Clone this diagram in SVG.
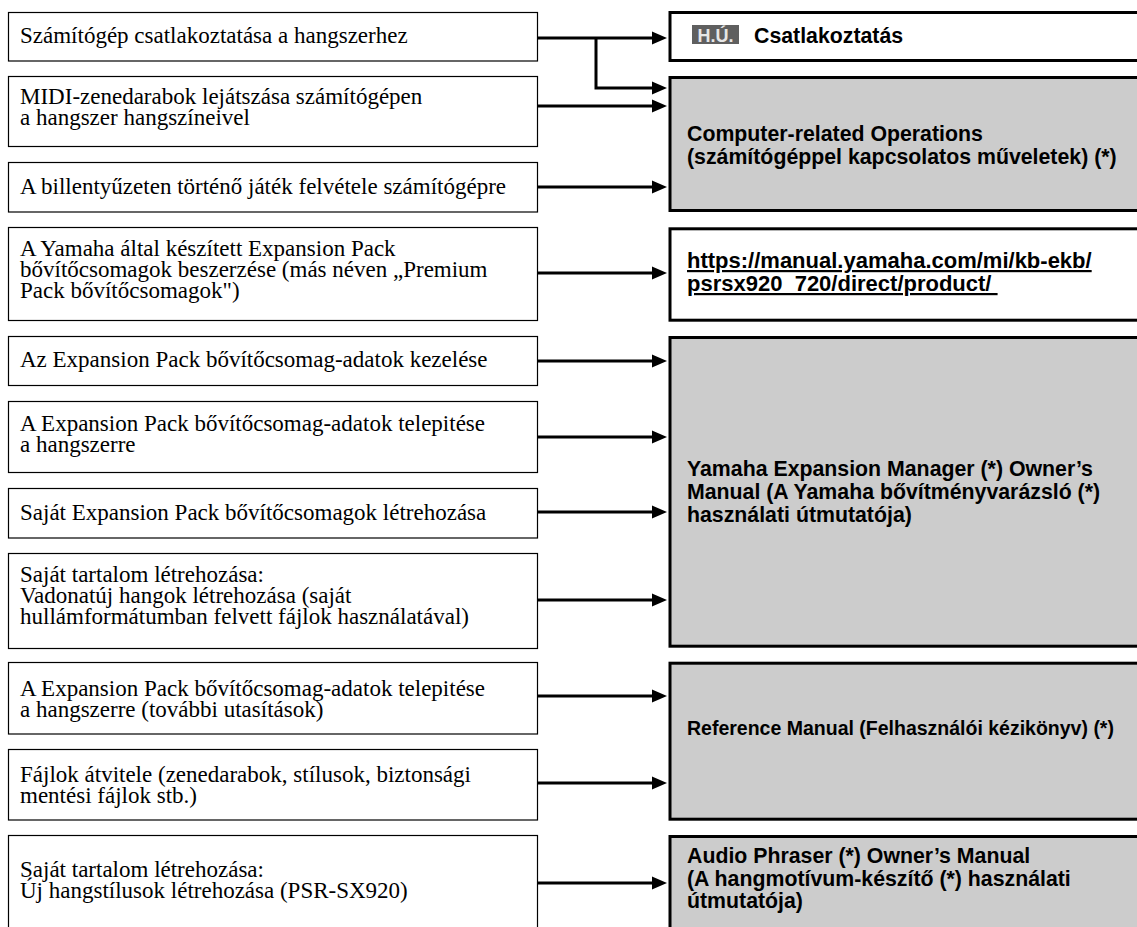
<svg xmlns="http://www.w3.org/2000/svg" width="1137" height="927" viewBox="0 0 1137 927">
<style>
.lb{fill:#fff;stroke:#000;stroke-width:1.2}
.rw{fill:#fff;stroke:#000;stroke-width:3}
.rg{fill:#cccccc;stroke:#000;stroke-width:3}
.lt{font-family:"Liberation Serif","Times New Roman",serif;font-size:23px;fill:#000}
.rt{font-family:"Liberation Sans",Arial,Helvetica,sans-serif;font-size:21.3px;font-weight:bold;fill:#000}
.url{font-size:22px;text-decoration:underline}
.small{font-size:19.5px}
.cn{fill:none;stroke:#000;stroke-width:3}
</style>
<defs>
<marker id="ah" markerUnits="userSpaceOnUse" markerWidth="16" markerHeight="14" refX="3" refY="7" orient="auto">
<path d="M0,0.5 L15,7 L0,13.5 z" fill="#000"/>
</marker>
</defs>
<rect width="1137" height="927" fill="#fff"/>

<g id="b1"><rect class="lb" x="8.5" y="12.5" width="529" height="48.5"/><text class="lt" x="20" y="43">Számítógép csatlakoztatása a hangszerhez</text></g>
<g id="b2"><rect class="lb" x="8.5" y="76.5" width="529" height="70"/><text class="lt" x="20" y="104">MIDI-zenedarabok lejátszása számítógépen</text><text class="lt" x="20" y="125">a hangszer hangszíneivel</text></g>
<g id="b3"><rect class="lb" x="8.5" y="162.5" width="529" height="49.5"/><text class="lt" x="20" y="194">A billentyűzeten történő játék felvétele számítógépre</text></g>
<g id="b4"><rect class="lb" x="8.5" y="227.5" width="529" height="93"/><text class="lt" x="20" y="256">A Yamaha által készített Expansion Pack</text><text class="lt" x="20" y="277">bővítőcsomagok beszerzése (más néven „Premium</text><text class="lt" x="20" y="298">Pack bővítőcsomagok")</text></g>
<g id="b5"><rect class="lb" x="8.5" y="336.5" width="529" height="49"/><text class="lt" x="20" y="367">Az Expansion Pack bővítőcsomag-adatok kezelése</text></g>
<g id="b6"><rect class="lb" x="8.5" y="401.5" width="529" height="71"/><text class="lt" x="20" y="431">A Expansion Pack bővítőcsomag-adatok telepitése</text><text class="lt" x="20" y="452">a hangszerre</text></g>
<g id="b7"><rect class="lb" x="8.5" y="488.5" width="529" height="49.5"/><text class="lt" x="20" y="520">Saját Expansion Pack bővítőcsomagok létrehozása</text></g>
<g id="b8"><rect class="lb" x="8.5" y="553.5" width="529" height="95"/><text class="lt" x="20" y="582">Saját tartalom létrehozása:</text><text class="lt" x="20" y="603">Vadonatúj hangok létrehozása (saját</text><text class="lt" x="20" y="624">hullámformátumban felvett fájlok használatával)</text></g>
<g id="b9"><rect class="lb" x="8.5" y="662.5" width="529" height="71.5"/><text class="lt" x="20" y="696">A Expansion Pack bővítőcsomag-adatok telepitése</text><text class="lt" x="20" y="717">a hangszerre (további utasítások)</text></g>
<g id="b10"><rect class="lb" x="8.5" y="749.5" width="529" height="70.5"/><text class="lt" x="20" y="782">Fájlok átvitele (zenedarabok, stílusok, biztonsági</text><text class="lt" x="20" y="803">mentési fájlok stb.)</text></g>
<g id="b11"><rect class="lb" x="8.5" y="835.5" width="529" height="100"/><text class="lt" x="20" y="877">Saját tartalom létrehozása:</text><text class="lt" x="20" y="898">Új hangstílusok létrehozása (PSR-SX920)</text></g>

<g id="r1"><rect class="rw" x="670" y="12.5" width="480" height="48"/><rect x="692" y="25" width="47" height="19" fill="#5f5f5f"/><text x="715.5" y="41.5" text-anchor="middle" font-family="Liberation Sans,Arial,sans-serif" font-size="18" font-weight="bold" fill="#e6e6e6">H.Ú.</text><text class="rt" x="754" y="43">Csatlakoztatás</text></g>
<g id="r2"><rect class="rg" x="670" y="77.5" width="480" height="133"/><text class="rt" x="687" y="141">Computer-related Operations</text><text class="rt" x="687" y="164">(számítógéppel kapcsolatos műveletek) (*)</text></g>
<g id="r3"><rect class="rw" x="670" y="228.8" width="480" height="91.4"/><text class="rt url" x="687" y="268">https://manual.yamaha.com/mi/kb-ekb/</text><text class="rt url" x="687" y="291">psrsx920_720/direct/product/&#160;</text></g>
<g id="r4"><rect class="rg" x="670" y="337.5" width="480" height="308.7"/><text class="rt" x="687" y="476">Yamaha Expansion Manager (*) Owner’s</text><text class="rt" x="687" y="499">Manual (A Yamaha bővítményvarázsló (*)</text><text class="rt" x="687" y="522">használati útmutatója)</text></g>
<g id="r5"><rect class="rg" x="670" y="663.2" width="480" height="156"/><text class="rt small" x="687" y="735">Reference Manual (Felhasználói kézikönyv) (*)</text></g>
<g id="r6"><rect class="rg" x="670" y="836.5" width="480" height="110"/><text class="rt" x="687" y="863">Audio Phraser (*) Owner’s Manual</text><text class="rt" x="687" y="885.5">(A hangmotívum-készítő (*) használati</text><text class="rt" x="687" y="908">útmutatója)</text></g>

<g id="connectors">
<path class="cn" d="M538,38 H655" marker-end="url(#ah)"/>
<path class="cn" d="M596,38 V88 H655" marker-end="url(#ah)"/>
<path class="cn" d="M538,106 H655" marker-end="url(#ah)"/>
<path class="cn" d="M538,187 H655" marker-end="url(#ah)"/>
<path class="cn" d="M538,273 H655" marker-end="url(#ah)"/>
<path class="cn" d="M538,361 H655" marker-end="url(#ah)"/>
<path class="cn" d="M538,437 H655" marker-end="url(#ah)"/>
<path class="cn" d="M538,512 H655" marker-end="url(#ah)"/>
<path class="cn" d="M538,600 H655" marker-end="url(#ah)"/>
<path class="cn" d="M538,696 H655" marker-end="url(#ah)"/>
<path class="cn" d="M538,783 H655" marker-end="url(#ah)"/>
<path class="cn" d="M538,883 H655" marker-end="url(#ah)"/>
</g>
</svg>
